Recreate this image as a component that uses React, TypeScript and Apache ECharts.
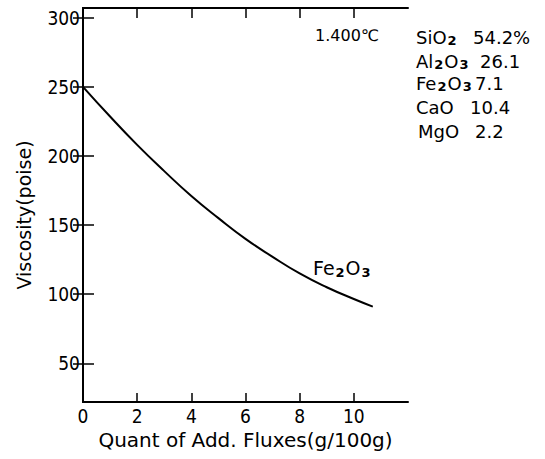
import React, { useEffect, useRef } from "react";
import * as echarts from "echarts";

const fluxX = [0, 1, 2, 3, 4, 5, 6, 7, 8, 9, 10, 10.7];
const viscosity = [250, 228.5, 208, 189, 171, 155, 140, 127, 115, 105, 96.5, 91];
const yTicks = [50, 100, 150, 200, 250, 300];
const xLabels = [0, 2, 4, 6, 8, 10];
const xTicks = [2, 4, 6, 8, 10];
const compRich = [
  "{a|SiO}{s|2}",
  "{a|Al}{s|2}{a|O}{s|3}",
  "{a|Fe}{s|2}{a|O}{s|3}",
  "{a|CaO}",
  "{a|MgO}",
];
const compValues = ["54.2%", "26.1", "7.1", "10.4", "2.2"];

const WIDE = "'DejaVu Sans', 'Liberation Sans', Arial, sans-serif";
const NARROW = "'DejaVu Sans Condensed', 'DejaVu Sans', 'Liberation Sans', Arial, sans-serif";

export default function App() {
  const ref = useRef<HTMLDivElement>(null);
  useEffect(() => {
    if (!ref.current) return;
    const chart = echarts.init(ref.current, null, { renderer: "svg" });
    const axisLine = { show: true, lineStyle: { color: "#000", width: 2 } };
    const subStyle = {
      fontSize: 13,
      fontFamily: WIDE,
      color: "#000",
      fontWeight: "bold",
      verticalAlign: "bottom",
      padding: [0, 1, -1, 1],
    };
    const rich = {
      a: { fontSize: 18, fontFamily: WIDE, color: "#000", verticalAlign: "bottom" },
      s: subStyle,
    };
    const compY = [37, 61, 83, 107, 131];
    const compX = [416, 416, 416, 416, 418];
    const compValX = [473, 480, 475, 470, 475];
    const graphics: any[] = [];
    compRich.forEach((t, i) => {
      graphics.push({
        type: "text",
        x: compX[i],
        y: compY[i],
        style: { text: t, rich, fill: "#000", verticalAlign: "middle", align: "left" },
      });
      graphics.push({
        type: "text",
        x: compValX[i],
        y: compY[i],
        style: {
          text: compValues[i],
          font: `18px ${WIDE}`,
          fill: "#000",
          verticalAlign: "middle",
          align: "left",
        },
      });
    });
    graphics.push({
      type: "text",
      x: 315,
      y: 35,
      style: {
        text: "1.400℃",
        font: `16px ${WIDE}`,
        fill: "#000",
        verticalAlign: "middle",
        align: "left",
      },
    });
    graphics.push({
      type: "text",
      x: 313,
      y: 268,
      style: {
        text: "{a|Fe}{s|2}{a|O}{s|3}",
        verticalAlign: "middle",
        align: "left",
        rich: {
          a: { fontSize: 19, fontFamily: WIDE, color: "#000", verticalAlign: "bottom" },
          s: subStyle,
        },
      },
    });
    graphics.push({
      type: "text",
      x: 24,
      y: 215,
      rotation: Math.PI / 2,
      style: {
        text: "Viscosity(poise)",
        font: `19px ${WIDE}`,
        fill: "#000",
        align: "center",
        verticalAlign: "middle",
      },
    });
    const tickStyle = { color: "#000", width: 1.5 };
    chart.setOption({
      animation: false,
      backgroundColor: "#fff",
      grid: { left: 83, right: 137, top: 8, bottom: 57 },
      xAxis: [
        {
          type: "value",
          min: 0,
          max: 12,
          interval: 2,
          position: "bottom",
          axisLine,
          splitLine: { show: false },
          axisTick: { show: true, inside: true, length: 9, lineStyle: tickStyle, customValues: xTicks },
          axisLabel: {
            customValues: xLabels,
            color: "#000",
            fontSize: 19,
            fontFamily: NARROW,
            margin: 4,
          },
          name: "Quant of Add. Fluxes(g/100g)",
          nameLocation: "middle",
          nameGap: 28,
          nameTextStyle: { color: "#000", fontSize: 20, fontFamily: WIDE },
        },
        {
          type: "value",
          min: 0,
          max: 12,
          interval: 2,
          position: "top",
          axisLine,
          splitLine: { show: false },
          axisTick: { show: true, inside: true, length: 10, lineStyle: tickStyle, customValues: xTicks },
          axisLabel: { show: false },
        },
      ],
      yAxis: [
        {
          type: "value",
          min: 22,
          max: 307,
          position: "left",
          axisLine,
          splitLine: { show: false },
          axisTick: { show: true, inside: true, length: 11, lineStyle: tickStyle, customValues: yTicks },
          axisLabel: {
            customValues: yTicks,
            color: "#000",
            fontSize: 19,
            fontFamily: NARROW,
            margin: 3,
          },
        },
        {
          type: "value",
          min: 22,
          max: 307,
          position: "right",
          axisLine,
          splitLine: { show: false },
          axisTick: { show: true, inside: true, length: 10, lineStyle: tickStyle, customValues: yTicks },
          axisLabel: { show: false },
        },
      ],
      series: [
        {
          type: "line",
          name: "Fe2O3",
          data: fluxX.map((x, i) => [x, viscosity[i]]),
          smooth: 0.5,
          showSymbol: false,
          symbol: "none",
          lineStyle: { color: "#000", width: 2 },
        },
      ],
      graphic: graphics,
    });
    return () => chart.dispose();
  }, []);
  return (
    <div
      ref={ref}
      style={{ position: "absolute", left: 0, top: 0, width: 545, height: 459 }}
    />
  );
}
